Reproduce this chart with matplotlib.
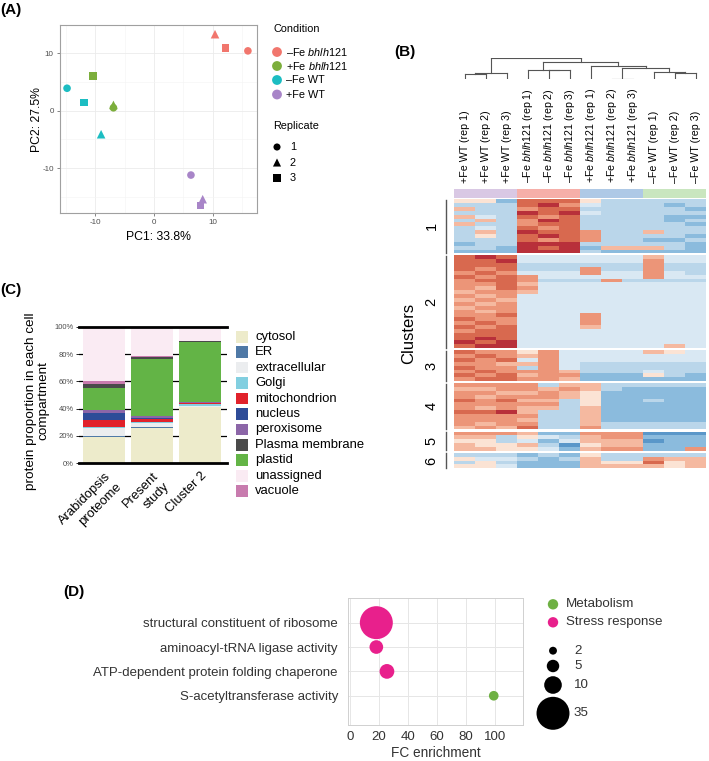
"""Four-panel proteomics figure: PCA, clustered heatmap, compartment bars, GO bubbles"""

import numpy as np
import matplotlib
matplotlib.use("Agg")
import matplotlib.pyplot as plt
from matplotlib.colors import ListedColormap
from matplotlib.patches import Rectangle
from matplotlib.transforms import blended_transform_factory

plt.rcParams['font.family'] = ['Liberation Sans', 'DejaVu Sans']
plt.rcParams['mathtext.fontset'] = 'custom'
plt.rcParams['mathtext.rm'] = 'Liberation Sans'
plt.rcParams['mathtext.it'] = 'Liberation Sans:italic'
plt.rcParams['axes.unicode_minus'] = False

W, H = 709, 761

# ---------------- (A) PCA ----------------
cond_labels = ['–Fe $\\mathit{bhlh121}$', '+Fe $\\mathit{bhlh121}$', '–Fe WT', '+Fe WT']
cond_colors = ['#F1766D', '#7CAE3C', '#1CBDC2', '#A885C8']
replicates = ['1', '2', '3']
rep_markers = ['o', '^', 's']
pc1 = [[16.0, 10.4, 12.2], [-6.9, -6.9, -10.4], [-14.8, -9.0, -11.9], [6.3, 8.3, 7.9]]
pc2 = [[10.4, 13.3, 10.9], [0.5, 1.0, 6.0], [3.9, -4.1, 1.4], [-11.2, -15.4, -16.5]]

# ---------------- (B) heatmap ----------------
col_names = ['+Fe WT (rep 1)', '+Fe WT (rep 2)', '+Fe WT (rep 3)',
             '–Fe $\\mathit{bhlh121}$ (rep 1)', '–Fe $\\mathit{bhlh121}$ (rep 2)',
             '–Fe $\\mathit{bhlh121}$ (rep 3)',
             '+Fe $\\mathit{bhlh121}$ (rep 1)', '+Fe $\\mathit{bhlh121}$ (rep 2)',
             '+Fe $\\mathit{bhlh121}$ (rep 3)',
             '–Fe WT (rep 1)', '–Fe WT (rep 2)', '–Fe WT (rep 3)']
col_group = [0, 0, 0, 1, 1, 1, 2, 2, 2, 3, 3, 3]
group_colors = ['#D9C8E4', '#F6AFA9', '#AEC9E6', '#C9E6BF']
# merges like a linkage table: (node a, node b, height); new nodes numbered from 12
merges = [(0, 1, 16), (12, 2, 18), (4, 5, 28), (3, 14, 29), (7, 8, 0.3),
          (10, 11, 18), (9, 17, 23), (16, 18, 33), (6, 19, 40), (15, 20, 53),
          (13, 21, 63)]
# each row: 12 colour levels, 0 = dark blue ... 9 = dark red
cluster1 = ["552888533333", "333897433323", "633788333332", "333989433333",
            "643878333322", "363798333323", "633788333332", "343878333333",
            "363988733633", "353898733332", "333878733223", "233999333332",
            "332989266632", "222999322222"]
cluster2 = ["898444444644", "889444444744", "888333333733", "878333733733",
            "787444744743", "878744444744", "788733373333", "778644444444",
            "768744444444", "677644444444", "767444444444", "676444444444",
            "767444444444", "677444444444", "767444444444", "778444744444",
            "877444744444", "787444744444", "878444644444", "788444444444",
            "888444444444", "898444444444", "989444444444", "899444444464"]
cluster3 = ["877574444654", "787674444444", "878474444444", "776674333333",
            "877374333333", "787776333433", "878677222532", "788776222222"]
cluster4 = ["777736633333", "667767632222", "776676522222", "767776522222",
            "878663522322", "777773522222", "767663622222", "889633622222",
            "777733622222", "777633622222", "767733633333", "676833733333"]
cluster5 = ["777622777111", "663543677222", "553424666122", "655631566222",
            "665542677227"]
cluster6 = ["333232533333", "544323633766", "353222655856", "554222666656"]
clusters = [cluster1, cluster2, cluster3, cluster4, cluster5, cluster6]
heat_colors = ['#2A6DAF', '#5A97C9', '#8BBBDD', '#BAD6EA', '#D9E8F3',
               '#FBE3D4', '#F5B9A0', '#EC9578', '#D8694F', '#B8303A']

# ---------------- (C) compartments ----------------
bar_names = ['Arabidopsis\nproteome', 'Present\nstudy', 'Cluster 2']
compartments = ['cytosol', 'ER', 'extracellular', 'Golgi', 'mitochondrion', 'nucleus',
                'peroxisome', 'Plasma membrane', 'plastid', 'unassigned', 'vacuole']
comp_colors = ['#EDEBCB', '#4F79A6', '#EBEDEF', '#82CFE0', '#E1222B', '#2E4C98',
               '#8C66A8', '#4A4A4A', '#63B446', '#FAEBF3', '#C87BAE']
stack_order = ['cytosol', 'ER', 'extracellular', 'Golgi', 'mitochondrion', 'nucleus',
               'peroxisome', 'plastid', 'Plasma membrane', 'vacuole', 'unassigned']
share = {  # percent per bar
    'cytosol':         [19.0, 26.0, 41.3],
    'ER':              [0.8, 0.3, 0.0],
    'extracellular':   [6.2, 3.2, 0.3],
    'Golgi':           [0.3, 0.3, 1.7],
    'mitochondrion':   [5.4, 2.8, 1.0],
    'nucleus':         [5.4, 0.4, 0.0],
    'peroxisome':      [2.0, 1.2, 0.2],
    'plastid':         [16.1, 42.0, 44.2],
    'Plasma membrane': [3.0, 2.0, 1.2],
    'vacuole':         [2.4, 0.2, 0.0],
    'unassigned':      [39.4, 21.6, 10.1],
}

# ---------------- (D) enrichment ----------------
go_terms = ['S-acetyltransferase activity', 'ATP-dependent protein folding chaperone',
            'aminoacyl-tRNA ligase activity', 'structural constituent of ribosome']
go_fc = [99, 25.5, 18.2, 18.2]
go_count = [3, 7, 6, 35]
go_class = ['Metabolism', 'Stress response', 'Stress response', 'Stress response']
class_colors = {'Metabolism': '#6EB043', 'Stress response': '#E8208C'}
size_breaks = [2, 5, 10, 35]


def box(x0, y0, x1, y1):
    return [x0 / W, 1 - y1 / H, (x1 - x0) / W, (y1 - y0) / H]


fig = plt.figure(figsize=(W / 100, H / 100), dpi=100)

# ===== A =====
axA = fig.add_axes(box(60, 25, 257, 213))
for i in range(4):
    for r in range(3):
        axA.scatter(pc1[i][r], pc2[i][r], marker=rep_markers[r], color=cond_colors[i],
                    s=38 if rep_markers[r] == '^' else 30, edgecolors='none', zorder=3)
axA.set_xlim(-16.0, 17.55)
axA.set_ylim(-17.8, 14.9)
axA.set_xticks([-10, 0, 10])
axA.set_yticks([-10, 0, 10])
axA.set_xticks([-15, -5, 5, 15], minor=True)
axA.set_yticks([-15, -5, 5], minor=True)
axA.grid(True, which='major', color='#EBEBEB', lw=0.6)
axA.grid(True, which='minor', color='#F4F4F4', lw=0.4)
axA.set_axisbelow(True)
axA.tick_params(which='major', labelsize=5.8, labelcolor='#4D4D4D', length=2.5,
                width=0.5, color='#555555', pad=2)
axA.tick_params(which='minor', length=0)
for s in axA.spines.values():
    s.set_color('#A0A0A0')
    s.set_linewidth(0.8)

# ===== C =====
axC = fig.add_axes(box(79.3, 327, 226.7, 463))
xb = np.arange(len(bar_names))
bottom = np.zeros(len(bar_names))
for comp in stack_order:
    vals = np.array(share[comp]) / 100
    axC.bar(xb, vals, bottom=bottom, width=0.87, linewidth=0,
            color=comp_colors[compartments.index(comp)], zorder=2)
    bottom += vals
for yv in [0.2, 0.4, 0.6, 0.8]:
    axC.axhline(yv, color='black', lw=0.9, zorder=0)
for yv in [0.0, 1.0]:
    axC.axhline(yv, color='black', lw=2.0, zorder=3, clip_on=False)
axC.set_xlim(-0.52, 2.55)
axC.set_ylim(0, 1)
axC.set_yticks([0, 0.2, 0.4, 0.6, 0.8, 1.0])
axC.set_yticklabels(['0%', '20%', '40%', '60%', '80%', '100%'])
axC.tick_params(axis='y', labelsize=5.5, labelcolor='#4D4D4D', length=2.5, width=0.6, pad=1.5)
axC.set_xticks(xb)
axC.set_xticklabels(bar_names, rotation=45, ha='right', va='top', rotation_mode='anchor',
                    fontsize=9.4, linespacing=1.4, multialignment='right')
axC.tick_params(axis='x', length=0, pad=5)
for s in axC.spines.values():
    s.set_visible(False)

# ===== D =====
axD = fig.add_axes(box(347.7, 598.3, 522.8, 725))
ypos = np.arange(1, len(go_terms) + 1)
axD.scatter(go_fc, ypos, s=np.array(go_count) * 16.1,
            c=[class_colors[c] for c in go_class], edgecolors='none', zorder=3)
axD.set_xlim(-1.5, 119)
axD.set_ylim(-0.2, 5.0)
axD.set_xticks([0, 20, 40, 60, 80, 100])
axD.set_yticks(ypos)
axD.set_yticklabels(go_terms)
axD.grid(True, color='#E6E6E6', lw=0.7)
axD.set_axisbelow(True)
axD.tick_params(axis='y', length=0, pad=7, labelsize=9.5, labelcolor='#333333')
axD.tick_params(axis='x', length=0, pad=4, labelsize=9.5, labelcolor='#333333')
for s in axD.spines.values():
    s.set_color('#D0D0D0')
    s.set_linewidth(0.7)

# ===== B: dendrogram =====
axDen = fig.add_axes(box(454.3, 58.3, 706, 79.3))
node_x = list(np.arange(12) + 0.5)
node_h = [0.0] * 12
for a, b, h in merges:
    for c in (a, b):
        axDen.plot([node_x[c], node_x[c]], [node_h[c], h], color='#555555', lw=0.8)
    axDen.plot([node_x[a], node_x[b]], [h, h], color='#555555', lw=0.8)
    node_x.append((node_x[a] + node_x[b]) / 2)
    node_h.append(h)
axDen.set_xlim(0, 12)
axDen.set_ylim(0, 63.5)
axDen.axis('off')

# column annotation bar + labels
axCol = fig.add_axes(box(454.3, 189, 706, 197.7))
axCol.imshow([col_group], aspect='auto', cmap=ListedColormap(group_colors),
             vmin=-0.5, vmax=3.5, extent=(0, 12, 0, 1))
axCol.set_xticks(np.arange(12) + 0.5)
axCol.set_xticklabels(col_names, rotation=90, fontsize=7.7)
axCol.xaxis.tick_top()
axCol.tick_params(axis='x', length=0, pad=4.5)
axCol.set_yticks([])
for s in axCol.spines.values():
    s.set_visible(False)

# heatmap with cluster gaps
axH = fig.add_axes(box(454.3, 199.3, 706, 468.3))
cmap = ListedColormap(heat_colors)
gap = 0.52
y0 = 0.0
spans = []
for rows in clusters:
    data = np.array([[int(ch) for ch in row] for row in rows])
    n = data.shape[0]
    axH.pcolormesh(np.arange(13), y0 + np.arange(n + 1), data, cmap=cmap,
                   vmin=-0.5, vmax=9.5, shading='flat')
    spans.append((y0, y0 + n))
    y0 += n + gap
axH.set_xlim(0, 12)
axH.set_ylim(y0 - gap, 0)
axH.axis('off')
tr = blended_transform_factory(axH.transAxes, axH.transData)
for k, (ya, yb) in enumerate(spans):
    axH.plot([-0.034, -0.034], [ya + 0.15, yb - 0.15], color='#555555', lw=1.0,
             transform=tr, clip_on=False)
    axH.text(-0.09, (ya + yb) / 2, str(k + 1), rotation=90, ha='center', va='center',
             fontsize=10.5, transform=tr)
axH.text(-0.18, 0.5, 'Clusters', rotation=90, ha='center', va='center', fontsize=12,
         transform=axH.transAxes)

# ===== overlay for legends and free text =====
lay = fig.add_axes([0, 0, 1, 1])
lay.set_xlim(0, W)
lay.set_ylim(H, 0)
lay.axis('off')

for lab, (x, y) in zip(['(A)', '(B)', '(C)', '(D)'],
                       [(0, 10), (394, 52), (0, 290), (63, 592)]):
    lay.text(x, y, lab, fontsize=11, fontweight='bold', ha='left', va='center')

lay.text(158.5, 237.5, 'PC1: 33.8%', fontsize=8.8, ha='center', va='center')
lay.text(37.5, 119, 'PC2: 27.5%', fontsize=8.8, ha='center', va='center', rotation=90)

# legend A
lay.text(273, 28.5, 'Condition', fontsize=7.8, ha='left', va='center')
for i, yy in enumerate([52, 66, 80, 94.5]):
    lay.scatter(277, yy, s=50, color=cond_colors[i], edgecolors='none')
    lay.text(285.5, yy, cond_labels[i], fontsize=7.8, ha='left', va='center')
lay.text(273, 126, 'Replicate', fontsize=7.8, ha='left', va='center')
for r, yy in enumerate([147, 162.5, 178]):
    lay.scatter(277, yy, s=34 if rep_markers[r] == '^' else 26, marker=rep_markers[r],
                color='black', edgecolors='none')
    lay.text(290, yy, replicates[r], fontsize=7.8, ha='left', va='center')

# C label and legend
lay.text(37, 401, 'protein proportion in each cell\ncompartment', rotation=90,
         fontsize=9.7, ha='center', va='center', linespacing=1.1)
for i, comp in enumerate(compartments):
    yy = 336.7 + 15.45 * i
    lay.add_patch(Rectangle((235.7, yy - 5.8), 12.5, 11.6, color=comp_colors[i], lw=0))
    lay.text(255, yy, comp, fontsize=9.4, ha='left', va='center')

# D legend
for cls, yy in zip(['Metabolism', 'Stress response'], [604.3, 622.3]):
    lay.scatter(553, yy, s=56, color=class_colors[cls], edgecolors='none')
    lay.text(566, yy, cls, fontsize=9.6, ha='left', va='center', color='#333333')
for n, yy in zip(size_breaks, [650.7, 666, 685, 713.3]):
    lay.scatter(553, yy, s=n * 16.1, color='black', edgecolors='none')
    lay.text(574, yy, str(n), fontsize=9.6, ha='left', va='center', color='#333333')
lay.text(436, 753, 'FC enrichment', fontsize=9.8, ha='center', va='center', color='#333333')

fig.savefig('out.png', dpi=100)
